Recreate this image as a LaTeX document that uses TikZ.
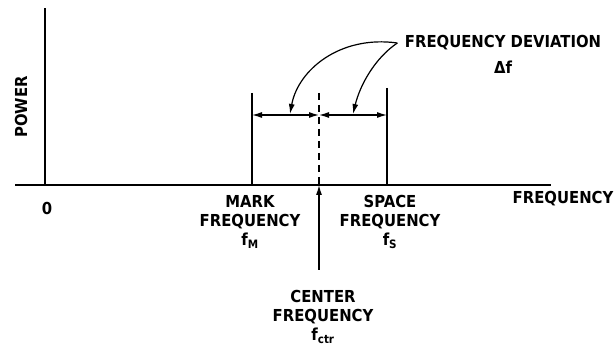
\documentclass[tikz,border=0pt]{standalone}
\usepackage{fontspec}
\setmainfont{DejaVu Sans Condensed}
\usetikzlibrary{arrows.meta}
\begin{document}
\begin{tikzpicture}[x=1pt, y=-1pt, line width=1.2pt,
    lbl/.style={font=\bfseries\fontsize{16.5}{19}\selectfont, align=center, inner sep=0pt},
    tip/.style={-{Latex[length=10pt,width=6pt]}},
    both/.style={{Latex[length=10pt,width=6pt]}-{Latex[length=10pt,width=6pt]}}]
\useasboundingbox (0,0) rectangle (615,352);
% axes
\coordinate (o) at (45,185);
\coordinate (ytop) at (45,8);
\coordinate (xl) at (15,185);
\coordinate (xr) at (551,185);
\draw (xl) -- (xr);
\draw (o) -- (ytop);
\node[lbl, rotate=90] (power) at (21,107) {POWER};
\node[lbl] (zero) at (47,208) {0};
\node[lbl] (freq) at (563,199) {FREQUENCY};
% mark, center and space lines
\coordinate (mt) at (252,93);  \coordinate (mb) at (252,185);
\coordinate (ct) at (319,93);  \coordinate (cb) at (319,185);
\coordinate (st) at (387,88);  \coordinate (sb) at (387,185);
\draw (mt) -- (mb);
\draw (st) -- (sb);
\draw[dashed, dash pattern=on 7pt off 5pt] (ct) -- (cb);
\coordinate (ma) at (252,115);
\coordinate (ca) at (319,115);
\coordinate (sa) at (387,115);
\draw[both] (ma) -- (ca);
\draw[both] (ca) -- (sa);
% deviation label with its arrows
\node[lbl] (dev) at (503,43) {FREQUENCY DEVIATION};
\node[lbl] (df) at (503,67) {Δf};
\coordinate (d1) at (290,114);
\coordinate (d2) at (353,114);
\draw[tip] ([xshift=-7pt]dev.west) .. controls (340,35) and (298,70) .. (d1);
\draw[tip] ([xshift=-7pt]dev.west) .. controls (375,58) and (360,85) .. (d2);
% frequency labels
\node[lbl, anchor=north] (mark) at (250,195) {MARK\\FREQUENCY\\f\textsubscript{M}};
\node[lbl, anchor=north] (space) at (390,195) {SPACE\\FREQUENCY\\f\textsubscript{S}};
\node[lbl, anchor=north] (ctr) at (323,290) {CENTER\\FREQUENCY\\f\textsubscript{ctr}};
\coordinate (cs) at (319,270);
\draw[tip] (cs) -- (cb);
\end{tikzpicture}
\end{document}
